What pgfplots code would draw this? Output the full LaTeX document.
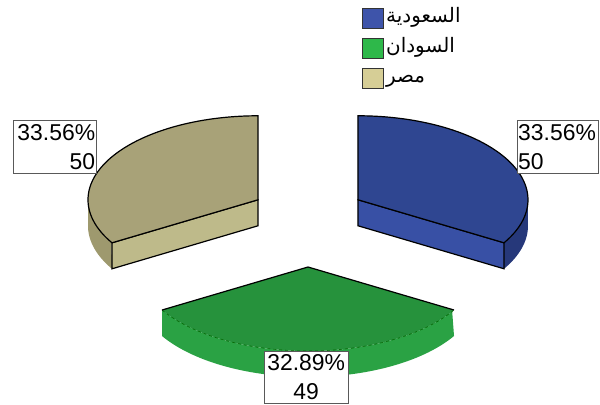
\documentclass[border=0pt]{standalone}
\usepackage{pgfplots}
\pgfplotsset{compat=1.18}
\usepackage{pgfplotstable}
\usepackage{fontspec}
\setmainfont{Liberation Sans}
\newfontfamily\arabicfont[Script=Arabic]{DejaVu Sans}
\TeXXeTstate=1
\definecolor{bluetop}{RGB}{47,70,145}
\definecolor{bluewall}{RGB}{56,80,165}
\definecolor{bluerim}{RGB}{38,56,122}
\definecolor{greentop}{RGB}{38,146,60}
\definecolor{greenrim}{RGB}{42,162,68}
\definecolor{tantop}{RGB}{168,162,120}
\definecolor{tanwall}{RGB}{190,186,138}
\definecolor{tanrim}{RGB}{158,153,110}
\definecolor{legblue}{RGB}{62,84,170}
\definecolor{leggreen}{RGB}{46,184,74}
\definecolor{legtan}{RGB}{214,206,150}
\pgfplotstableread{
slice value
1 50
2 49
3 50
}\piedata
\pgfplotstablegetelem{0}{value}\of\piedata\let\vA\pgfplotsretval
\pgfplotstablegetelem{1}{value}\of\piedata\let\vB\pgfplotsretval
\pgfplotstablegetelem{2}{value}\of\piedata\let\vC\pgfplotsretval
\pgfmathsetmacro\tot{\vA+\vB+\vC}
\pgfmathsetmacro\aA{90}
\pgfmathsetmacro\aB{\aA-360*(\vA/\tot)}
\pgfmathsetmacro\aC{\aB-360*(\vB/\tot)}
\pgfmathsetmacro\aD{\aC-360*(\vC/\tot)}
\pgfmathsetmacro\aCp{360+\aC}
\def\rx{170}\def\ry{84}\def\T{26}
\def\ox{308}\def\oy{222}\def\ex{57.5}\def\ey{45}
\pgfmathsetmacro\mA{(\aA+\aB)/2}
\pgfmathsetmacro\mB{(\aB+\aC)/2}
\pgfmathsetmacro\mC{(\aC+\aD)/2}
\pgfmathsetmacro\cxA{\ox+\ex*cos(\mA)}\pgfmathsetmacro\cyA{\oy-\ey*sin(\mA)}
\pgfmathsetmacro\cxB{\ox+\ex*cos(\mB)}\pgfmathsetmacro\cyB{\oy-\ey*sin(\mB)}
\pgfmathsetmacro\cxC{\ox+\ex*cos(\mC)}\pgfmathsetmacro\cyC{\oy-\ey*sin(\mC)}
\pgfmathsetmacro\wxA{\cxA+\rx*cos(\aB)}\pgfmathsetmacro\wyA{\cyA-\ry*sin(\aB)}
\pgfmathsetmacro\wxC{\cxC+\rx*cos(\aC)}\pgfmathsetmacro\wyC{\cyC-\ry*sin(\aC)}
\pgfmathsetmacro\gxL{\cxB+\rx*cos(\aC)}\pgfmathsetmacro\gyL{\cyB-\ry*sin(\aC)}
\pgfmathsetmacro\gxR{\cxB+\rx*cos(\aB)}\pgfmathsetmacro\gyR{\cyB-\ry*sin(\aB)}
\pgfmathsetmacro\cyAT{\cyA+\T}\pgfmathsetmacro\wyAT{\wyA+\T}
\pgfmathsetmacro\cyCT{\cyC+\T}\pgfmathsetmacro\wyCT{\wyC+\T}
\pgfmathsetmacro\pA{100*(\vA/\tot)}
\pgfmathsetmacro\pB{100*(\vB/\tot)}
\pgfmathsetmacro\pC{100*(\vC/\tot)}
\newcommand\lblfont{\fontsize{23}{29}\selectfont}
\pgfkeys{/pgf/number format/assume math mode=true}
\begin{document}
\begin{tikzpicture}
\begin{axis}[
  hide axis, scale only axis, width=600bp, height=405bp,
  xmin=0, xmax=600, ymin=0, ymax=405, y dir=reverse, clip=false,
  declare function={rang(\t,\a,\b)=(\t<1)*(\a+\t*(\b-\a))+(\t>=1)*(\b-(\t-1)*(\b-\a));},
  legend style={at={(axis cs:362,6)}, anchor=north west, draw=none, fill=none,
    inner sep=0pt, row sep=6bp, font=\fontsize{20}{22}\selectfont,
    nodes={inner sep=2bp, text height=14bp, text depth=6bp}},
  legend cell align=left,
  legend image code/.code={\draw[#1, draw=black!80, line width=1bp] (0bp,-10bp) rectangle (21bp,10bp);},
]
% ---- Egypt (tan)
\addplot[forget plot, fill=tanrim, draw=none, domain=0:2, samples=201]
  ({\cxC+\rx*cos(rang(x,180,\aCp))}, {\cyC-\ry*sin(rang(x,180,\aCp))+\T*(x>=1)}) -- cycle;
\addplot[forget plot, fill=tanwall, draw=black, line width=1.2bp]
  coordinates {(\cxC,\cyC) (\wxC,\wyC) (\wxC,\wyCT) (\cxC,\cyCT)} -- cycle;
\addplot[forget plot, fill=tantop, draw=black, line width=1.2bp, domain=90:\aCp, samples=80]
  ({\cxC+\rx*cos(x)}, {\cyC-\ry*sin(x)}) -- (axis cs:\cxC,\cyC) -- cycle;
% ---- Saudi (blue)
\addplot[forget plot, fill=bluerim, draw=none, domain=0:2, samples=201]
  ({\cxA+\rx*cos(rang(x,\aB,0))}, {\cyA-\ry*sin(rang(x,\aB,0))+\T*(x>=1)}) -- cycle;
\addplot[forget plot, fill=bluewall, draw=black, line width=1.2bp]
  coordinates {(\cxA,\cyA) (\wxA,\wyA) (\wxA,\wyAT) (\cxA,\cyAT)} -- cycle;
\addplot[forget plot, fill=bluetop, draw=black, line width=1.2bp, domain=\aB:90, samples=80]
  ({\cxA+\rx*cos(x)}, {\cyA-\ry*sin(x)}) -- (axis cs:\cxA,\cyA) -- cycle;
% ---- Sudan (green)
\addplot[forget plot, fill=greenrim, draw=none, domain=0:2, samples=201]
  ({\cxB+\rx*cos(rang(x,\aC,\aB))}, {\cyB-\ry*sin(rang(x,\aC,\aB))+\T*(x>=1)}) -- cycle;
\addplot[forget plot, fill=greentop, draw=none, domain=\aC:\aB, samples=80]
  ({\cxB+\rx*cos(x)}, {\cyB-\ry*sin(x)}) -- (axis cs:\cxB,\cyB) -- cycle;
\addplot[forget plot, draw=black!60!green, dashed, line width=0.6bp, domain=\aC:\aB, samples=80]
  ({\cxB+\rx*cos(x)}, {\cyB-\ry*sin(x)});
\addplot[forget plot, draw=black, line width=1.2bp]
  coordinates {(\gxL,\gyL) (\cxB,\cyB) (\gxR,\gyR)};
% ---- labels
\node[draw=black!65, fill=white, align=right, anchor=north west, text width=81bp,
  inner sep=1bp, minimum height=53bp, font=\lblfont] at (axis cs:13,120)
  {\pgfmathprintnumber[fixed,fixed zerofill,precision=2]{\pC}\%\\\pgfmathprintnumber{\vC}};
\node[draw=black!65, fill=white, align=left, anchor=north west, text width=79bp,
  inner sep=1bp, minimum height=53bp, font=\lblfont] at (axis cs:517,120)
  {\pgfmathprintnumber[fixed,fixed zerofill,precision=2]{\pA}\%\\\pgfmathprintnumber{\vA}};
\node[draw=black!65, fill=white, align=center, anchor=north west, text width=82bp,
  inner sep=1bp, minimum height=52bp, font=\lblfont] at (axis cs:264,351)
  {\pgfmathprintnumber[fixed,fixed zerofill,precision=2]{\pB}\%\\\pgfmathprintnumber{\vB}};
% ---- legend
\addlegendimage{fill=legblue}
\addlegendentry{\arabicfont\beginR السعودية\endR}
\addlegendimage{fill=leggreen}
\addlegendentry{\arabicfont\beginR السودان\endR}
\addlegendimage{fill=legtan}
\addlegendentry{\arabicfont\beginR مصر\endR}
\end{axis}
\pgfresetboundingbox
\path[use as bounding box] (0,0) rectangle (600bp,405bp);
\end{tikzpicture}
\end{document}
